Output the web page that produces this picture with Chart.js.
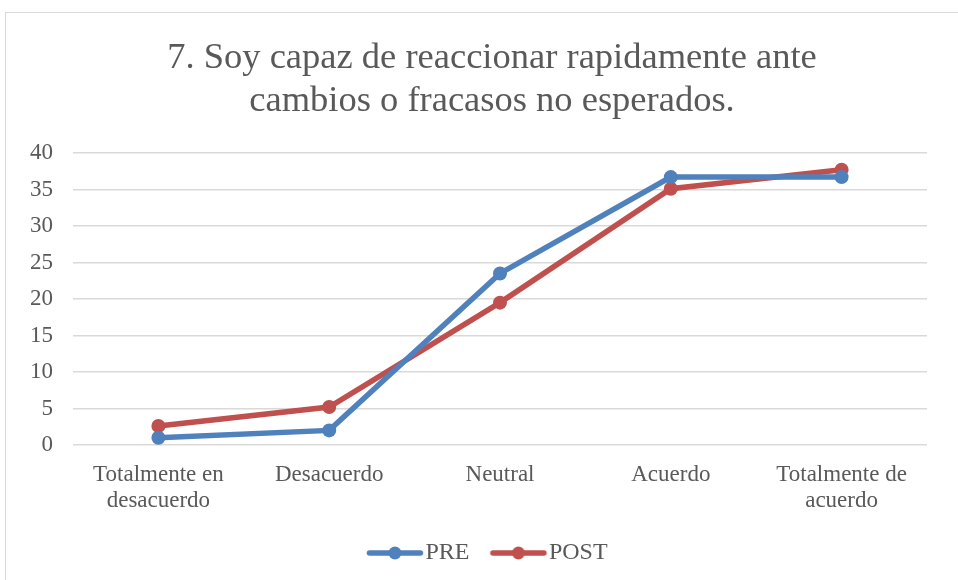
<!DOCTYPE html>
<html>
<head>
<meta charset="utf-8">
<script src="https://cdn.jsdelivr.net/npm/chart.js@4"></script>
<style>
  html, body { margin: 0; padding: 0; background: #ffffff; overflow: hidden; width: 958px; height: 580px; }
  #box { position: absolute; left: 5px; top: 12px; width: 972px; height: 590px; border: 1px solid #d9d9d9; box-sizing: border-box; background: #fff; }
  #wrap { position: absolute; left: 0; top: 0; width: 972px; height: 590px; }
</style>
</head>
<body>
<div id="box"><div id="wrap"><canvas id="c"></canvas></div></div>
<script>
const titleLines = ['7. Soy capaz de reaccionar rapidamente ante', 'cambios o fracasos no esperados.'];
const categories = [['Totalmente en', 'desacuerdo'], 'Desacuerdo', 'Neutral', 'Acuerdo', ['Totalmente de', 'acuerdo']];
const preValues = [1.0, 2.0, 23.5, 36.7, 36.7];
const postValues = [2.6, 5.2, 19.5, 35.1, 37.7];
const seriesNames = ['PRE', 'POST'];
const yTicksMin = 0, yTicksMax = 40, yStep = 5;

const FONT = "'Liberation Serif', 'Times New Roman', serif";
const TEXT = '#595959';
const BLUE = '#4F81BD';
const RED = '#C0504D';

function legendIcon(color) {
  const c = document.createElement('canvas');
  c.width = 60; c.height = 16;
  const g = c.getContext('2d');
  g.strokeStyle = color; g.lineWidth = 5.5; g.lineCap = 'round';
  g.beginPath(); g.moveTo(4.5, 8); g.lineTo(55.5, 8); g.stroke();
  g.fillStyle = color;
  g.beginPath(); g.arc(30, 8, 6.5, 0, Math.PI * 2); g.fill();
  return c;
}
const icons = [legendIcon(BLUE), legendIcon(RED)];

new Chart(document.getElementById('c'), {
  type: 'line',
  data: {
    labels: categories,
    datasets: [
      { label: seriesNames[0], data: preValues, borderColor: BLUE, backgroundColor: BLUE,
        borderWidth: 5.5, pointRadius: 7, pointHoverRadius: 7, pointBorderWidth: 0, tension: 0,
        pointStyle: 'circle', yAxisID: 'y' },
      { label: seriesNames[1], data: postValues, borderColor: RED, backgroundColor: RED,
        borderWidth: 5.5, pointRadius: 7, pointHoverRadius: 7, pointBorderWidth: 0, tension: 0,
        pointStyle: 'circle', yAxisID: 'y' }
    ]
  },
  options: {
    responsive: true,
    maintainAspectRatio: false,
    animation: false,
    layout: { padding: { left: 0, right: 0, top: 0, bottom: 28 } },
    plugins: {
      title: {
        display: true,
        text: titleLines,
        color: TEXT,
        font: { family: FONT, size: 36.5, weight: 'normal', lineHeight: 1.178 },
        padding: { top: 24, bottom: 30 }
      },
      legend: {
        position: 'bottom',
        labels: {
          color: TEXT,
          font: { family: FONT, size: 24 },
          usePointStyle: true,
          pointStyleWidth: 37,
          padding: 30.5,
          generateLabels: (chart) => chart.data.datasets.map((ds, i) => ({
            text: ds.label, pointStyle: icons[i], fillStyle: ds.borderColor,
            strokeStyle: ds.borderColor, lineWidth: 0, hidden: false, datasetIndex: i, fontColor: TEXT
          }))
        }
      },
      tooltip: { enabled: false }
    },
    scales: {
      x: {
        offset: true,
        grid: { display: false, drawTicks: false },
        border: { display: false },
        ticks: { color: TEXT, font: { family: FONT, size: 23, lineHeight: 1.13 }, padding: 17, maxRotation: 0, autoSkip: false },
        afterFit: (s) => { s.height = 65.5; }
      },
      y: {
        position: 'left',
        min: yTicksMin, max: yTicksMax,
        grid: { color: '#d9d9d9', lineWidth: 1.5, drawTicks: false },
        border: { display: false },
        ticks: { stepSize: yStep, color: TEXT, font: { family: FONT, size: 23 }, padding: 20 },
        afterFit: (s) => { s.width = 67; }
      },
      yRight: {
        position: 'right',
        display: true,
        min: yTicksMin, max: yTicksMax,
        grid: { display: false, drawTicks: false },
        border: { display: false },
        ticks: { display: false },
        afterFit: (s) => { s.width = 51; }
      }
    }
  }
});
</script>
</body>
</html>
